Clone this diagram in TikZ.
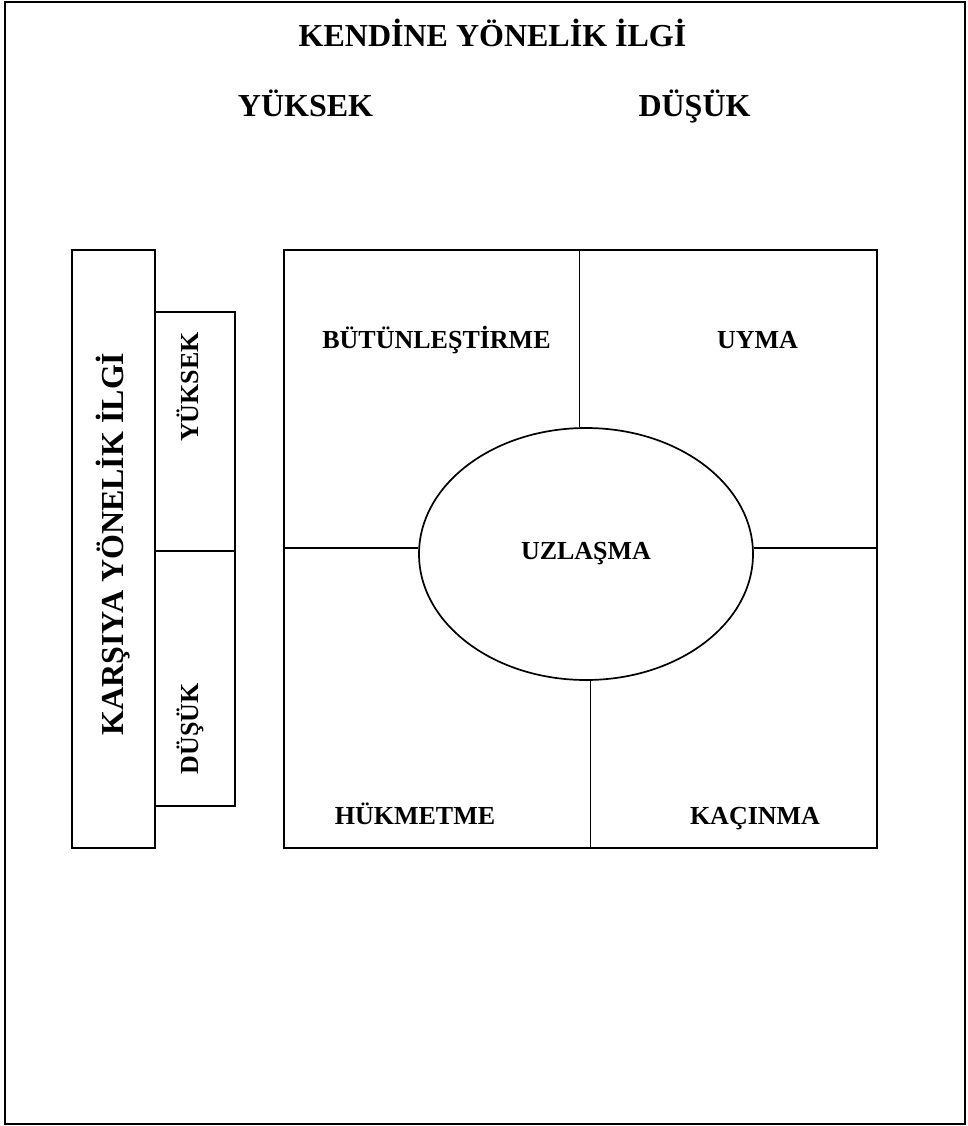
\documentclass[tikz,border=0pt]{standalone}
\usepackage{fontspec}
\setmainfont{Liberation Serif}
\usetikzlibrary{shapes.geometric}
\begin{document}
\begin{tikzpicture}[x=1pt,y=-1pt,
  ln/.style={line width=1.7pt},
  frame/.style={draw,line width=1.7pt,inner sep=0pt,anchor=north west},
  big/.style={font=\fontsize{32}{38}\selectfont\bfseries,inner sep=0pt,anchor=base},
  mid/.style={font=\fontsize{26}{31}\selectfont\bfseries,inner sep=0pt,anchor=base}]
\useasboundingbox (0,0) rectangle (968,1126);
\draw[line width=2.2pt] (5,2) rectangle (965,1124);
% boxes
\node[frame,minimum width=593pt,minimum height=598pt] (box) at (283,249) {};
\node[frame,minimum width=83pt,minimum height=598pt] (kbox) at (71,249) {};
\node[frame,minimum width=80pt,minimum height=239pt] (ybox) at (154,311) {};
\node[frame,minimum width=80pt,minimum height=255pt] (dbox) at (154,550) {};
\node[draw,ellipse,ln,fill=white,inner sep=0pt,minimum width=334pt,minimum height=252pt,
      font=\fontsize{26}{31}\selectfont\bfseries] (ell) at (586,554) {\raisebox{-4pt}{UZLAŞMA}};
% dividers
\draw[ln] (ell.93) -- (ell.93 |- box.north);
\draw[ln] (ell.-88) -- (ell.-88 |- box.south);
\draw[ln] (ell.178) -- (ell.178 -| box.west);
\draw[ln] (ell.2) -- (ell.2 -| box.east);
% texts
\node[big] (title) at (492.5,47) {KENDİNE YÖNELİK İLGİ};
\node[big] (hy) at (305.5,117) {YÜKSEK};
\node[big] (hd) at (694.5,117) {DÜŞÜK};
\node[big,rotate=90] (kl) at (123,544) {KARŞIYA YÖNELİK İLGİ};
\node[mid,rotate=90] (yl) at (198,387) {YÜKSEK};
\node[mid,rotate=90] (dl) at (198,729) {DÜŞÜK};
\node[mid] (q1) at (436.5,348) {BÜTÜNLEŞTİRME};
\node[mid] (q2) at (757.5,348) {UYMA};
\node[mid] (q3) at (415,824) {HÜKMETME};
\node[mid] (q4) at (755,824) {KAÇINMA};
\end{tikzpicture}
\end{document}
